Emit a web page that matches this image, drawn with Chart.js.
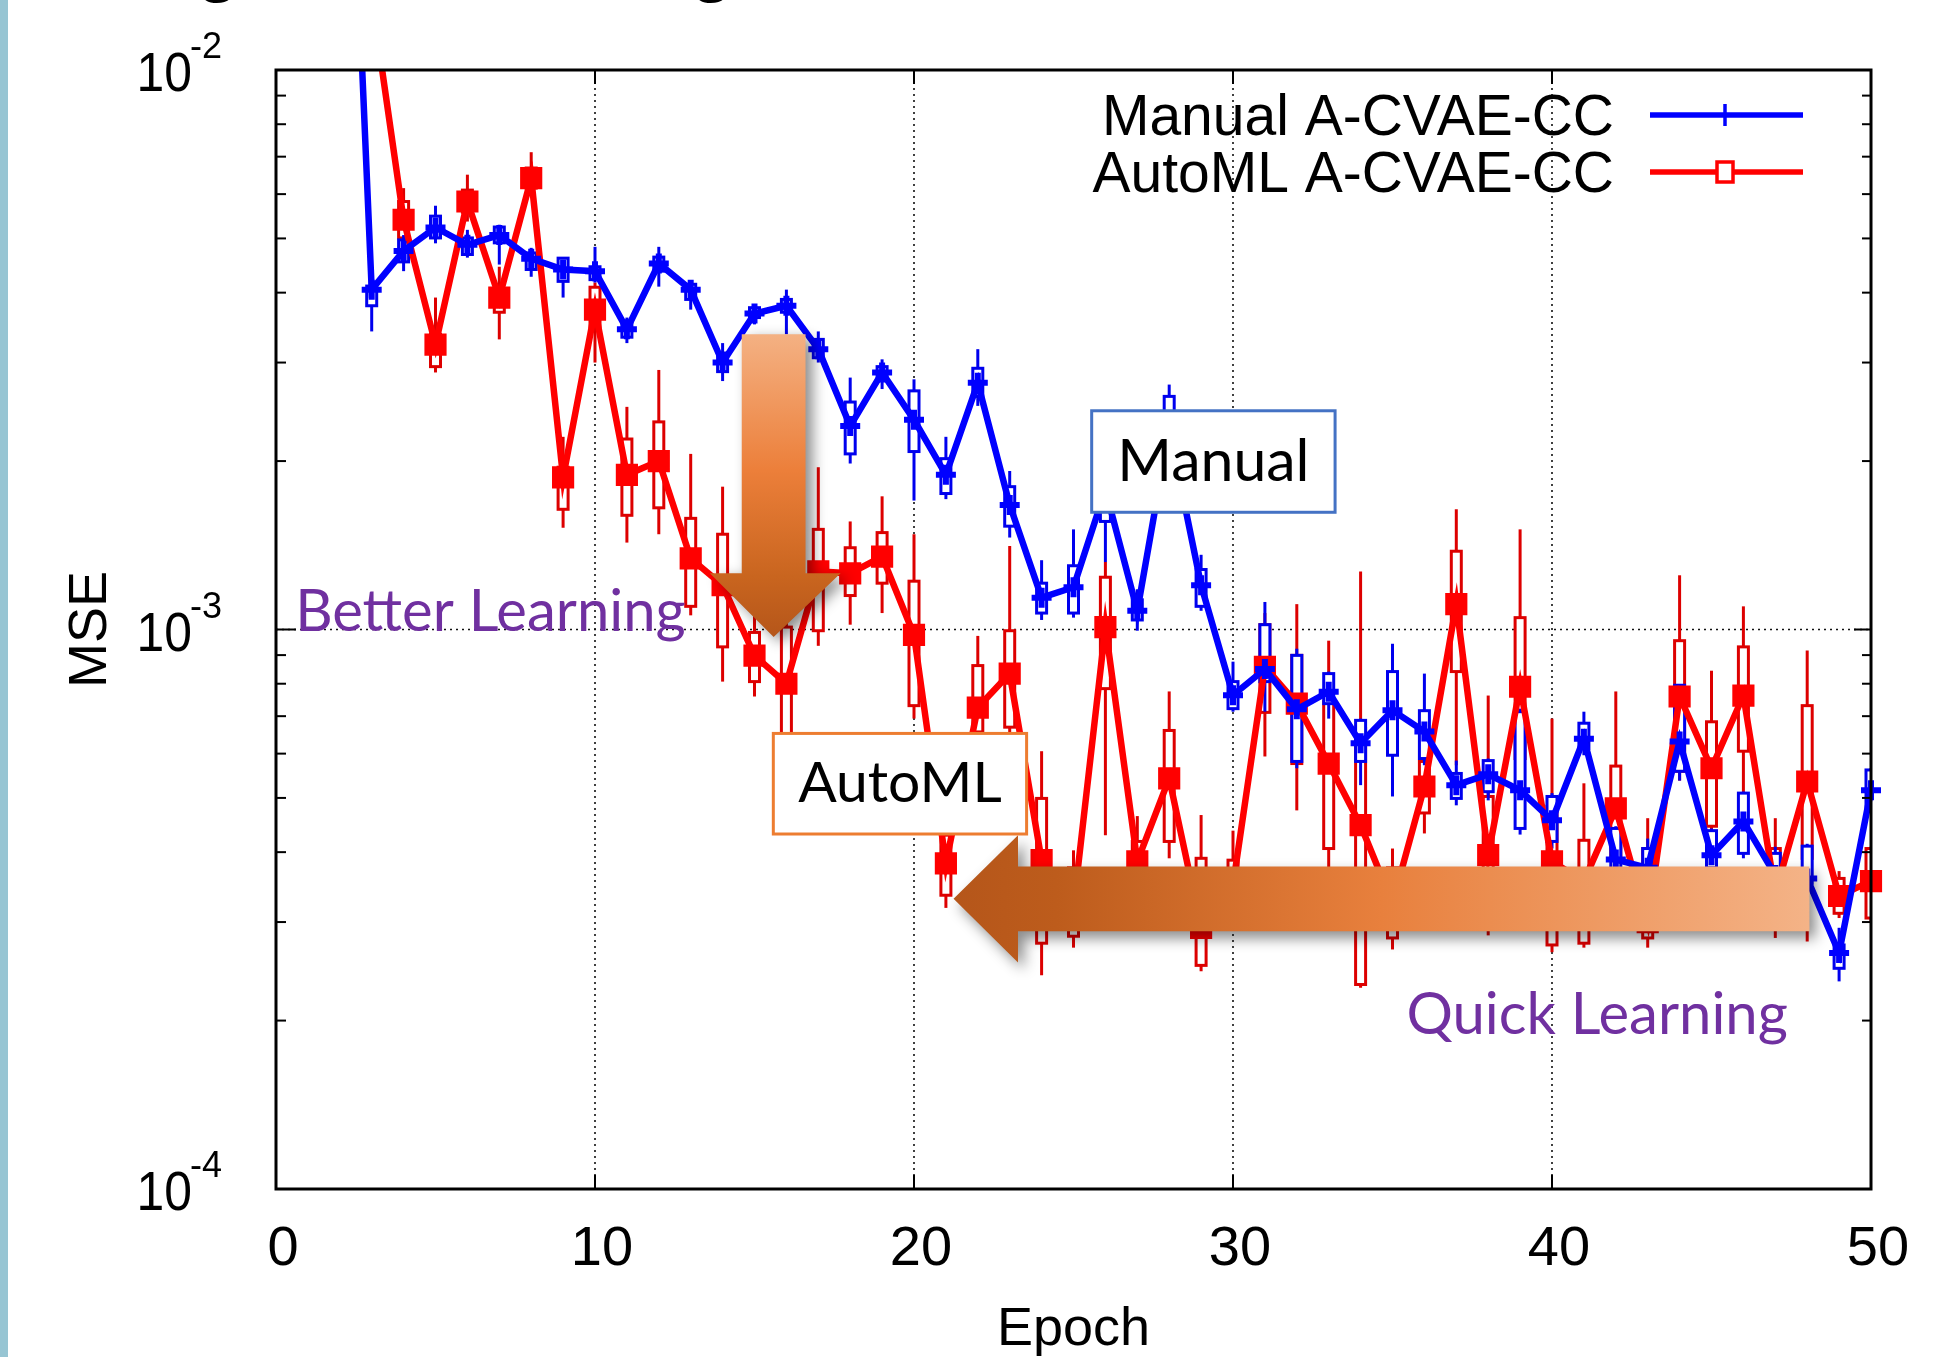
<!DOCTYPE html>
<html>
<head>
<meta charset="utf-8">
<script src="https://cdn.jsdelivr.net/npm/chart.js@4.4.0/dist/chart.umd.min.js"></script>
<style>
  html, body { margin: 0; padding: 0; background: #fff; }
  canvas { display: block; }
</style>
</head>
<body>
<canvas id="mse" width="1951" height="1357"></canvas>
<script>
// --- data (MSE per epoch) ---
const epochs = [2, 3, 4, 5, 6, 7, 8, 9, 10, 11, 12, 13, 14, 15, 16, 17, 18, 19, 20, 21, 22, 23, 24, 25,
  26, 27, 28, 29, 30, 31, 32, 33, 34, 35, 36, 37, 38, 39, 40, 41, 42, 43, 44, 45, 46, 47, 48, 49, 50];

const manualMSE = [0.085, 4.05e-3, 4.75e-3, 5.23e-3, 4.87e-3, 5.07e-3, 4.60e-3, 4.40e-3, 4.37e-3, 3.44e-3,
  4.51e-3, 4.05e-3, 3.00e-3, 3.67e-3, 3.79e-3, 3.17e-3, 2.31e-3, 2.88e-3, 2.37e-3, 1.89e-3, 2.76e-3, 1.67e-3,
  1.14e-3, 1.19e-3, 1.78e-3, 1.08e-3, 2.28e-3, 1.20e-3, 7.63e-4, 8.5e-4, 7.2e-4, 7.74e-4, 6.26e-4, 7.17e-4,
  6.57e-4, 5.27e-4, 5.51e-4, 5.16e-4, 4.56e-4, 6.38e-4, 3.88e-4, 3.75e-4, 6.31e-4, 3.95e-4, 4.54e-4, 3.64e-4,
  3.59e-4, 2.64e-4, 5.16e-4];

const automlMSE = [null, 0.0135, 5.40e-3, 3.23e-3, 5.82e-3, 3.92e-3, 6.41e-3, 1.87e-3, 3.73e-3, 1.89e-3,
  2.00e-3, 1.34e-3, 1.20e-3, 8.98e-4, 8.00e-4, 1.27e-3, 1.26e-3, 1.35e-3, 9.78e-4, 3.82e-4, 7.25e-4, 8.34e-4,
  3.87e-4, 3.19e-4, 1.01e-3, 3.85e-4, 5.42e-4, 2.93e-4, 3.49e-4, 8.58e-4, 7.37e-4, 5.76e-4, 4.47e-4, 3.24e-4,
  5.24e-4, 1.11e-3, 3.95e-4, 7.90e-4, 3.85e-4, 3.55e-4, 4.79e-4, 3.00e-4, 7.59e-4, 5.65e-4, 7.62e-4, 3.38e-4,
  5.35e-4, 3.34e-4, 3.55e-4];

// candlesticks: whisker top, box top, box bottom, whisker bottom
const manualWhiskHi = [null, 4.23e-3, 5.07e-3, 5.72e-3, 5.18e-3, 5.29e-3, 4.81e-3, 4.63e-3, 4.83e-3, 3.61e-3,
  4.83e-3, 4.19e-3, 3.25e-3, 3.81e-3, 4.05e-3, 3.41e-3, 2.82e-3, 3.04e-3, 2.80e-3, 2.21e-3, 3.17e-3, 1.92e-3,
  1.33e-3, 1.51e-3, 1.93e-3, 1.18e-3, 2.74e-3, 1.36e-3, 8.76e-4, 1.12e-3, 9.24e-4, 8.41e-4, 6.93e-4, 9.43e-4,
  8.34e-4, 5.83e-4, 5.88e-4, 7.22e-4, 5.10e-4, 7.13e-4, 4.45e-4, 4.23e-4, 7.98e-4, 4.41e-4, 5.13e-4, 4.09e-4,
  4.14e-4, 2.93e-4, 5.65e-4];
const manualBoxHi = [null, 4.11e-3, 4.97e-3, 5.48e-3, 5.01e-3, 5.24e-3, 4.71e-3, 4.61e-3, 4.45e-3, 3.54e-3,
  4.63e-3, 4.14e-3, 3.12e-3, 3.76e-3, 3.89e-3, 3.30e-3, 2.55e-3, 2.95e-3, 2.67e-3, 2.02e-3, 2.93e-3, 1.80e-3,
  1.21e-3, 1.30e-3, 1.69e-3, 1.13e-3, 2.61e-3, 1.28e-3, 8.07e-4, 1.02e-3, 8.99e-4, 8.34e-4, 6.88e-4, 8.41e-4,
  7.16e-4, 5.53e-4, 5.83e-4, 7.13e-4, 5.03e-4, 6.80e-4, 4.41e-4, 4.06e-4, 7.95e-4, 4.37e-4, 5.10e-4, 3.98e-4,
  4.10e-4, 2.73e-4, 5.61e-4];
const manualBoxLo = [null, 3.79e-3, 4.54e-3, 5.01e-3, 4.68e-3, 4.91e-3, 4.40e-3, 4.19e-3, 4.22e-3, 3.33e-3,
  4.37e-3, 3.89e-3, 2.89e-3, 3.61e-3, 3.69e-3, 3.06e-3, 2.06e-3, 2.80e-3, 2.08e-3, 1.75e-3, 2.61e-3, 1.53e-3,
  1.07e-3, 1.07e-3, 1.56e-3, 1.04e-3, 1.93e-3, 1.10e-3, 7.22e-4, 8.07e-4, 5.81e-4, 7.37e-4, 5.81e-4, 5.96e-4,
  5.88e-4, 4.99e-4, 5.13e-4, 4.41e-4, 4.18e-4, 6.13e-4, 3.59e-4, 3.59e-4, 5.58e-4, 3.75e-4, 3.98e-4, 3.45e-4,
  3.52e-4, 2.48e-4, 4.74e-4];
const manualWhiskLo = [null, 3.41e-3, 4.37e-3, 4.90e-3, 4.62e-3, 4.49e-3, 4.27e-3, 3.92e-3, 4.17e-3, 3.25e-3,
  4.10e-3, 3.73e-3, 2.78e-3, 3.51e-3, 3.37e-3, 3.00e-3, 1.98e-3, 2.69e-3, 1.70e-3, 1.71e-3, 2.51e-3, 1.46e-3,
  1.04e-3, 1.05e-3, 1.32e-3, 9.95e-4, 1.71e-3, 1.08e-3, 7.13e-4, 7.13e-4, 5.65e-4, 6.93e-4, 5.27e-4, 5.03e-4,
  5.72e-4, 4.85e-4, 4.95e-4, 4.30e-4, 4.06e-4, 5.96e-4, 3.45e-4, 3.45e-4, 5.37e-4, 3.59e-4, 3.90e-4, 3.38e-4,
  3.45e-4, 2.35e-4, 4.70e-4];

const automlWhiskHi = [null, null, 6.15e-3, 3.92e-3, 6.50e-3, 4.45e-3, 7.13e-3, 2.21e-3, 4.17e-3, 2.50e-3,
  2.91e-3, 2.06e-3, 1.80e-3, 1.13e-3, 1.13e-3, 1.95e-3, 1.56e-3, 1.73e-3, 1.48e-3, 5.42e-4, 9.74e-4, 1.41e-3,
  6.06e-4, 4.03e-4, 1.32e-3, 4.64e-4, 7.75e-4, 4.66e-4, 4.37e-4, 1.07e-3, 1.11e-3, 9.55e-4, 1.27e-3, 4.06e-4,
  6.74e-4, 1.64e-3, 7.62e-4, 1.51e-3, 6.93e-4, 5.31e-4, 7.75e-4, 4.60e-4, 1.25e-3, 8.44e-4, 1.10e-3, 4.60e-4,
  9.17e-4, 3.70e-4, 4.09e-4];
const automlBoxHi = [null, null, 5.82e-3, 3.37e-3, 6.10e-3, 4.05e-3, 6.68e-3, 1.95e-3, 4.09e-3, 2.19e-3,
  2.35e-3, 1.58e-3, 1.48e-3, 9.88e-4, 1.01e-3, 1.51e-3, 1.40e-3, 1.49e-3, 1.22e-3, 4.29e-4, 8.62e-4, 9.95e-4,
  4.99e-4, 3.75e-4, 1.24e-3, 4.18e-4, 6.60e-4, 3.90e-4, 3.87e-4, 1.02e-3, 8.99e-4, 7.43e-4, 6.65e-4, 3.75e-4,
  5.81e-4, 1.38e-3, 5.03e-4, 1.05e-3, 4.83e-4, 4.20e-4, 5.70e-4, 4.06e-4, 9.55e-4, 6.84e-4, 9.31e-4, 4.06e-4,
  7.31e-4, 3.59e-4, 4.06e-4];
const automlBoxLo = [null, null, 5.01e-3, 2.95e-3, 5.57e-3, 3.69e-3, 6.15e-3, 1.64e-3, 3.48e-3, 1.60e-3,
  1.65e-3, 1.10e-3, 9.31e-4, 8.07e-4, 6.38e-4, 9.95e-4, 1.15e-3, 1.21e-3, 7.31e-4, 3.35e-4, 6.56e-4, 6.69e-4,
  2.75e-4, 2.83e-4, 7.84e-4, 3.70e-4, 4.18e-4, 2.51e-4, 3.31e-4, 7.11e-4, 5.76e-4, 4.06e-4, 2.32e-4, 2.81e-4,
  4.70e-4, 8.41e-4, 3.31e-4, 5.88e-4, 2.73e-4, 2.75e-4, 3.90e-4, 2.81e-4, 5.58e-4, 4.45e-4, 6.06e-4, 2.93e-4,
  3.90e-4, 3.11e-4, 3.05e-4];
const automlWhiskLo = [null, null, 4.58e-3, 2.88e-3, 5.36e-3, 3.30e-3, 6.03e-3, 1.52e-3, 3.00e-3, 1.43e-3,
  1.48e-3, 1.06e-3, 8.07e-4, 7.59e-4, 5.88e-4, 9.35e-4, 1.02e-3, 1.07e-3, 6.93e-4, 3.18e-4, 5.88e-4, 5.88e-4,
  2.41e-4, 2.70e-4, 4.29e-4, 3.45e-4, 3.90e-4, 2.45e-4, 3.18e-4, 5.93e-4, 4.75e-4, 3.75e-4, 2.29e-4, 2.68e-4,
  4.32e-4, 5.72e-4, 2.84e-4, 5.37e-4, 2.65e-4, 2.70e-4, 3.75e-4, 2.70e-4, 5.37e-4, 4.06e-4, 4.41e-4, 2.81e-4,
  2.77e-4, 3.05e-4, 3.00e-4];

// axes
const xTicks = [0, 10, 20, 30, 40, 50];
const xGrid = [10, 20, 30, 40];
const yMajor = [1e-2, 1e-3, 1e-4];
const yExponents = ['-2', '-3', '-4'];
const yMinor = [2e-4, 3e-4, 4e-4, 5e-4, 6e-4, 7e-4, 8e-4, 9e-4,
  2e-3, 3e-3, 4e-3, 5e-3, 6e-3, 7e-3, 8e-3, 9e-3];

// callouts, placed in data units (epoch, MSE)
const downArrow = { x0: 14.6, x1: 16.6, hx0: 13.6, hx1: 17.7, top: 3.37e-3, neck: 1.26e-3, tip: 0.97e-3 };
const leftArrow = { tip: 21.24, neck: 23.26, end: 48.07, top: 3.77e-4, bottom: 2.89e-4, htop: 4.29e-4, hbottom: 2.54e-4 };
const boxes = [
  { text: 'Manual', x0: 25.57, x1: 33.2, top: 2.46e-3, bottom: 1.62e-3, border: '#4472c4', size: 59 },
  { text: 'AutoML', x0: 15.59, x1: 23.53, top: 6.52e-4, bottom: 4.31e-4, border: '#ed7d31', size: 57 }
];
const notes = [
  { text: 'Better Learning', x: 0.6, y: 9.93e-4 },
  { text: 'Quick Learning', x: 35.44, y: 1.894e-4 }
];

const SANS = '"Liberation Sans", Arial, Helvetica, sans-serif';
const CALLOUT = 'Lato, "Open Sans", sans-serif';

function candles(ctx, xs, ys, color, hi, bhi, blo, lo) {
  ctx.strokeStyle = color;
  ctx.lineWidth = 3;
  epochs.forEach((e, i) => {
    if (hi[i] == null) return;
    const px = xs.getPixelForValue(e);
    ctx.beginPath();
    ctx.moveTo(px, ys.getPixelForValue(hi[i]));
    ctx.lineTo(px, ys.getPixelForValue(lo[i]));
    ctx.stroke();
    const t = ys.getPixelForValue(bhi[i]), b = ys.getPixelForValue(blo[i]);
    ctx.fillStyle = '#fff';
    ctx.fillRect(px - 5, t, 10, b - t);
    ctx.strokeRect(px - 5, t, 10, b - t);
  });
}

const decor = {
  id: 'decor',
  beforeDraw(chart) {
    const ctx = chart.ctx;
    ctx.save();
    ctx.fillStyle = '#fff';
    ctx.fillRect(0, 0, chart.width, chart.height);
    ctx.fillStyle = '#97c5d3';
    ctx.fillRect(0, 0, 8, chart.height);
    // bottom of the cut-off title line
    ctx.fillStyle = '#000';
    ctx.font = 'bold 70px ' + SANS;
    ctx.textAlign = 'center';
    ctx.fillText('g', 218, -12);
    ctx.fillText('g', 712, -12);
    ctx.restore();
  },
  beforeDatasetsDraw(chart) {
    const { ctx, chartArea: a, scales: { x, y } } = chart;
    ctx.save();
    ctx.strokeStyle = '#111';
    ctx.lineWidth = 1.6;
    ctx.setLineDash([2, 4]);
    xGrid.forEach(v => {
      const px = x.getPixelForValue(v);
      ctx.beginPath(); ctx.moveTo(px, a.top); ctx.lineTo(px, a.bottom); ctx.stroke();
    });
    const gy = y.getPixelForValue(yMajor[1]);
    ctx.beginPath(); ctx.moveTo(a.left, gy); ctx.lineTo(a.right, gy); ctx.stroke();
    ctx.setLineDash([]);
    ctx.beginPath(); ctx.rect(a.left, a.top, a.right - a.left, a.bottom - a.top); ctx.clip();
    candles(ctx, x, y, '#dd0000', automlWhiskHi, automlBoxHi, automlBoxLo, automlWhiskLo);
    candles(ctx, x, y, '#0000ee', manualWhiskHi, manualBoxHi, manualBoxLo, manualWhiskLo);
    ctx.restore();
  },
  afterDatasetsDraw(chart) {
    const { ctx, chartArea: a, scales: { x, y } } = chart;
    ctx.save();

    // frame + ticks
    ctx.strokeStyle = '#000';
    ctx.lineWidth = 3;
    ctx.strokeRect(a.left, a.top, a.right - a.left, a.bottom - a.top);
    ctx.lineWidth = 2;
    const tick = (x0, y0, x1, y1) => { ctx.beginPath(); ctx.moveTo(x0, y0); ctx.lineTo(x1, y1); ctx.stroke(); };
    yMajor.forEach(v => { const p = y.getPixelForValue(v); tick(a.left, p, a.left + 20, p); tick(a.right, p, a.right - 17, p); });
    yMinor.forEach(v => { const p = y.getPixelForValue(v); tick(a.left, p, a.left + 10, p); tick(a.right, p, a.right - 9, p); });
    xTicks.forEach(v => { const p = x.getPixelForValue(v); tick(p, a.top, p, a.top + 14); tick(p, a.bottom, p, a.bottom - 14); });

    // tick labels
    ctx.fillStyle = '#000';
    ctx.textBaseline = 'alphabetic';
    ctx.font = '56px ' + SANS;
    ctx.textAlign = 'center';
    xTicks.forEach(v => ctx.fillText(String(v), x.getPixelForValue(v) + 7, 1265));
    yMajor.forEach((v, i) => {
      const p = y.getPixelForValue(v);
      ctx.save();
      ctx.translate(192, p + 21);
      ctx.scale(0.89, 1);
      ctx.font = '56px ' + SANS;
      ctx.textAlign = 'right';
      ctx.fillText('10', 0, 0);
      ctx.restore();
      ctx.font = '36px ' + SANS;
      ctx.textAlign = 'left';
      ctx.fillText(yExponents[i], 190, p - 12);
    });

    // axis titles
    ctx.font = '54px ' + SANS;
    ctx.textAlign = 'center';
    ctx.fillText('Epoch', (a.left + a.right) / 2, 1345);
    ctx.save();
    ctx.translate(106, (a.top + a.bottom) / 2);
    ctx.rotate(-Math.PI / 2);
    ctx.fillText('MSE', 0, 0);
    ctx.restore();

    // legend
    const ds = chart.data.datasets;
    const rows = [a.top + 45, a.top + 102];
    rows.forEach((ry, i) => {
      ctx.font = '57px ' + SANS;
      ctx.textAlign = 'right';
      ctx.fillStyle = '#000';
      ctx.fillText(ds[i].label, a.right - 257, ry + 20);
      ctx.strokeStyle = ds[i].borderColor;
      ctx.lineWidth = 5.5;
      tick(a.right - 221, ry, a.right - 68, ry);
      const mx = a.right - 146;
      if (i === 0) {
        ctx.lineWidth = 3.5;
        tick(mx, ry - 11, mx, ry + 11);
      } else {
        ctx.lineWidth = 3.5;
        ctx.fillStyle = '#fff';
        ctx.fillRect(mx - 8, ry - 10, 16, 20);
        ctx.strokeRect(mx - 8, ry - 10, 16, 20);
      }
    });

    // down arrow
    const d = downArrow;
    const dx0 = x.getPixelForValue(d.x0), dx1 = x.getPixelForValue(d.x1);
    const dh0 = x.getPixelForValue(d.hx0), dh1 = x.getPixelForValue(d.hx1);
    const dTop = y.getPixelForValue(d.top), dNeck = y.getPixelForValue(d.neck), dTip = y.getPixelForValue(d.tip);
    let g = ctx.createLinearGradient(0, dTop, 0, dTip);
    g.addColorStop(0, '#f4b183');
    g.addColorStop(0.45, '#ec7f3a');
    g.addColorStop(0.8, '#c9651f');
    g.addColorStop(1, '#b5561a');
    ctx.save();
    ctx.shadowColor = 'rgba(0,0,0,0.45)';
    ctx.shadowBlur = 14; ctx.shadowOffsetX = 7; ctx.shadowOffsetY = 5;
    ctx.fillStyle = g;
    ctx.beginPath();
    ctx.moveTo(dx0, dTop); ctx.lineTo(dx1, dTop); ctx.lineTo(dx1, dNeck); ctx.lineTo(dh1, dNeck);
    ctx.lineTo((dx0 + dx1) / 2, dTip); ctx.lineTo(dh0, dNeck); ctx.lineTo(dx0, dNeck);
    ctx.closePath(); ctx.fill();
    ctx.restore();

    // left arrow
    const l = leftArrow;
    const lTip = x.getPixelForValue(l.tip), lNeck = x.getPixelForValue(l.neck), lEnd = x.getPixelForValue(l.end);
    const lt = y.getPixelForValue(l.top), lb = y.getPixelForValue(l.bottom);
    const lht = y.getPixelForValue(l.htop), lhb = y.getPixelForValue(l.hbottom);
    g = ctx.createLinearGradient(lTip, 0, lEnd, 0);
    g.addColorStop(0, '#b5561a');
    g.addColorStop(0.12, '#bd5c1c');
    g.addColorStop(0.5, '#e8803d');
    g.addColorStop(1, '#f4b387');
    ctx.save();
    ctx.shadowColor = 'rgba(0,0,0,0.45)';
    ctx.shadowBlur = 14; ctx.shadowOffsetX = 6; ctx.shadowOffsetY = 7;
    ctx.fillStyle = g;
    ctx.beginPath();
    ctx.moveTo(lEnd, lt); ctx.lineTo(lNeck, lt); ctx.lineTo(lNeck, lht); ctx.lineTo(lTip, (lt + lb) / 2);
    ctx.lineTo(lNeck, lhb); ctx.lineTo(lNeck, lb); ctx.lineTo(lEnd, lb);
    ctx.closePath(); ctx.fill();
    ctx.restore();

    // labelled boxes
    boxes.forEach(b => {
      const bx0 = x.getPixelForValue(b.x0), bx1 = x.getPixelForValue(b.x1);
      const by0 = y.getPixelForValue(b.top), by1 = y.getPixelForValue(b.bottom);
      ctx.fillStyle = '#fff';
      ctx.fillRect(bx0, by0, bx1 - bx0, by1 - by0);
      ctx.strokeStyle = b.border;
      ctx.lineWidth = 3;
      ctx.strokeRect(bx0, by0, bx1 - bx0, by1 - by0);
      ctx.fillStyle = '#000';
      ctx.font = b.size + 'px ' + CALLOUT;
      ctx.textAlign = 'center';
      ctx.textBaseline = 'middle';
      ctx.fillText(b.text, (bx0 + bx1) / 2, (by0 + by1) / 2);
    });

    // purple notes
    ctx.fillStyle = '#7030a0';
    ctx.font = '58px ' + CALLOUT;
    ctx.textAlign = 'left';
    ctx.textBaseline = 'alphabetic';
    notes.forEach(n => ctx.fillText(n.text, x.getPixelForValue(n.x), y.getPixelForValue(n.y)));

    ctx.restore();
  }
};

new Chart(document.getElementById('mse').getContext('2d'), {
  type: 'line',
  data: {
    datasets: [
      {
        label: 'Manual A-CVAE-CC',
        data: epochs.map((e, i) => ({ x: e, y: manualMSE[i] })),
        borderColor: '#0000ff',
        borderWidth: 6.5,
        pointStyle: 'cross',
        pointRadius: 10,
        pointBorderWidth: 6,
        pointBorderColor: '#0000ff',
        pointBackgroundColor: '#0000ff',
        clip: { left: 0, top: 0, right: 16, bottom: 0 }
      },
      {
        label: 'AutoML A-CVAE-CC',
        data: epochs.map((e, i) => ({ x: e, y: automlMSE[i] })),
        borderColor: '#ff0000',
        borderWidth: 6.5,
        pointStyle: 'rect',
        pointRadius: 12.5,
        pointBorderWidth: 4.5,
        pointBorderColor: '#ff0000',
        pointBackgroundColor: '#ff0000',
        clip: { left: 0, top: 0, right: 16, bottom: 0 }
      }
    ]
  },
  options: {
    responsive: false,
    animation: false,
    devicePixelRatio: 1,
    layout: { padding: { top: 70, right: 80, left: 0, bottom: 0 } },
    plugins: { legend: { display: false }, tooltip: { enabled: false } },
    scales: {
      x: {
        type: 'linear', min: 0, max: 50,
        ticks: { display: false }, grid: { display: false }, border: { display: false },
        afterFit: s => { s.height = 168; }
      },
      y: {
        type: 'logarithmic', min: 1e-4, max: 1e-2,
        ticks: { display: false }, grid: { display: false }, border: { display: false },
        afterFit: s => { s.width = 276; }
      }
    }
  },
  plugins: [decor]
});
</script>
</body>
</html>
